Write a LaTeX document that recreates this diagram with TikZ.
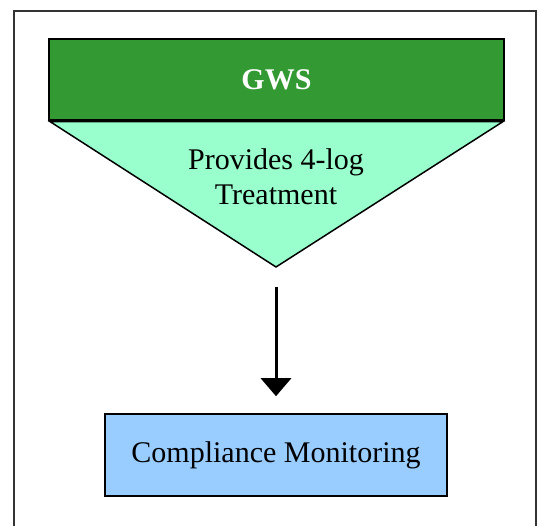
\documentclass[tikz,border=0pt]{standalone}
\usepackage{fontspec}
\setmainfont{Liberation Serif}
\usepackage{xcolor}
\usepackage{tikz}
\usetikzlibrary{arrows.meta,positioning,calc}

\definecolor{gwsgreen}{RGB}{51,153,51}
\definecolor{treatgreen}{RGB}{153,255,204}
\definecolor{monblue}{RGB}{153,204,255}

\begin{document}
\begin{tikzpicture}[
  x=1pt, y=1pt,
  box/.style={draw, line width=1.5pt, align=center, inner sep=0pt, font=\fontsize{30}{35}\selectfont},
  arr/.style={-{Triangle[width=30pt,length=18pt]}, line width=3pt}
]
  \useasboundingbox (0,0) rectangle (541,525);
  \draw[line width=2pt, black!80] (14,-5) rectangle (536,514);

  \node[box, fill=gwsgreen, text=white, font=\fontsize{30}{35}\selectfont\bfseries,
    minimum width=455pt, minimum height=81pt] (gws) at (276.5,445.5) {GWS};
  \coordinate (apex) at (276,258);
  \draw[line width=1.5pt, fill=treatgreen] ($(gws.south west)+(2,-1)$) -- (apex) -- ($(gws.south east)+(-2,-1)$) -- cycle;
  \node[align=center, font=\fontsize{30}{35}\selectfont] (treat) at (276,348) {Provides 4-log\\Treatment};

  \node[box, fill=monblue, minimum width=342pt, minimum height=82pt] (mon) at (276,70) {Compliance Monitoring};

  \draw[arr, shorten <=20pt, shorten >=17pt] (apex) -- (mon.north);
\end{tikzpicture}
\end{document}
